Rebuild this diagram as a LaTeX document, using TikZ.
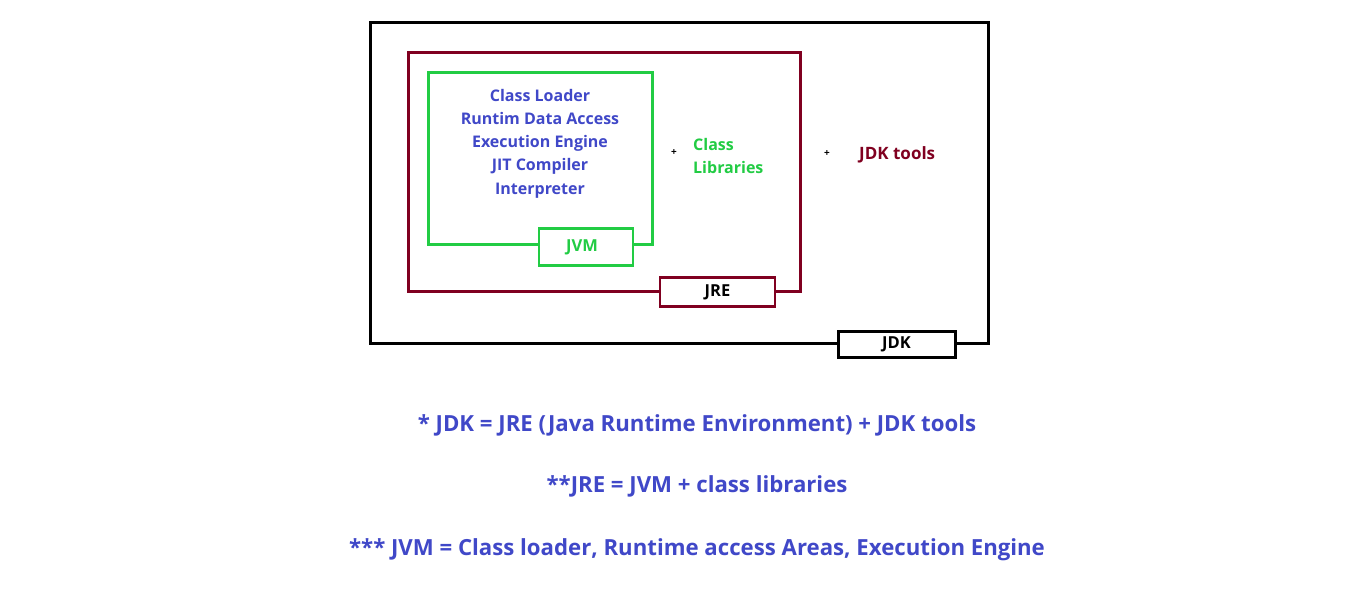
\documentclass[tikz,border=0pt]{standalone}
\usepackage{fontspec}
\setmainfont{Open Sans}
\definecolor{blueC}{RGB}{64,72,200}
\definecolor{greenC}{RGB}{34,204,68}
\definecolor{redC}{RGB}{128,0,32}
\begin{document}
\begin{tikzpicture}[x=1pt,y=-1pt,
  bigbox/.style={draw, minimum width=#1, anchor=north west, inner sep=0pt},
  lblbox/.style={draw, fill=white, inner sep=0pt, font=\fontsize{16.5}{18}\selectfont\bfseries},
  jvmtext/.style={text=blueC, align=center, font=\fontsize{16}{23.3}\selectfont\bfseries},
  plus/.style={font=\fontsize{10}{10}\selectfont\bfseries, text=black, inner sep=0pt},
  note/.style={text=blueC, font=\fontsize{22.2}{24}\selectfont\bfseries, inner sep=0pt}
]
\useasboundingbox (0,0) rectangle (1350,592);
\fill[white] (0,0) rectangle (1350,592);
% JDK outer box
\node[bigbox=618pt, minimum height=321pt, line width=3pt, draw=black] (jdk) at (369,21) {};
% JRE box
\node[bigbox=392pt, minimum height=239pt, line width=2.8pt, draw=redC] (jre) at (407,51) {};
% JVM box
\node[bigbox=224pt, minimum height=172pt, line width=2.8pt, draw=greenC] (jvm) at (427,71) {};
% label boxes
\node[lblbox, draw=greenC, line width=2.8pt, minimum width=94pt, minimum height=37pt, text=greenC] (jvmlbl) at (586,247) {\hspace*{-8pt}JVM};
\node[lblbox, draw=redC, line width=2.8pt, minimum width=115pt, minimum height=29pt, text=black] (jrelbl) at (717.5,292) {JRE};
\node[lblbox, draw=black, line width=3pt, minimum width=117pt, minimum height=26pt, text=black] (jdklbl) at (896.5,344) {JDK};
% JVM contents
\node[jvmtext] (jvmtxt) at (540,143.5) {Class Loader\\Runtim Data Access\\Execution Engine\\JIT Compiler\\Interpreter};
% class libraries
\node[plus] (plus1) at (674,152.5) {+};
\node[text=greenC, align=left, anchor=west, inner sep=0pt, font=\fontsize{16}{23.3}\selectfont\bfseries] (classlib) at (693,156) {Class\\Libraries};
% JDK tools
\node[plus] (plus2) at (827,153.5) {+};
\node[text=redC, anchor=west, inner sep=0pt, font=\fontsize{17}{20}\selectfont\bfseries] (jdktools) at (859,154.5) {JDK tools};
% notes
\node[note] (n1) at (697,425.5) {* JDK = JRE (Java Runtime Environment) + JDK tools};
\node[note] (n2) at (697,486.5) {**JRE = JVM + class libraries};
\node[note] (n3) at (697,549.5) {*** JVM = Class loader, Runtime access Areas, Execution Engine};
\end{tikzpicture}
\end{document}
